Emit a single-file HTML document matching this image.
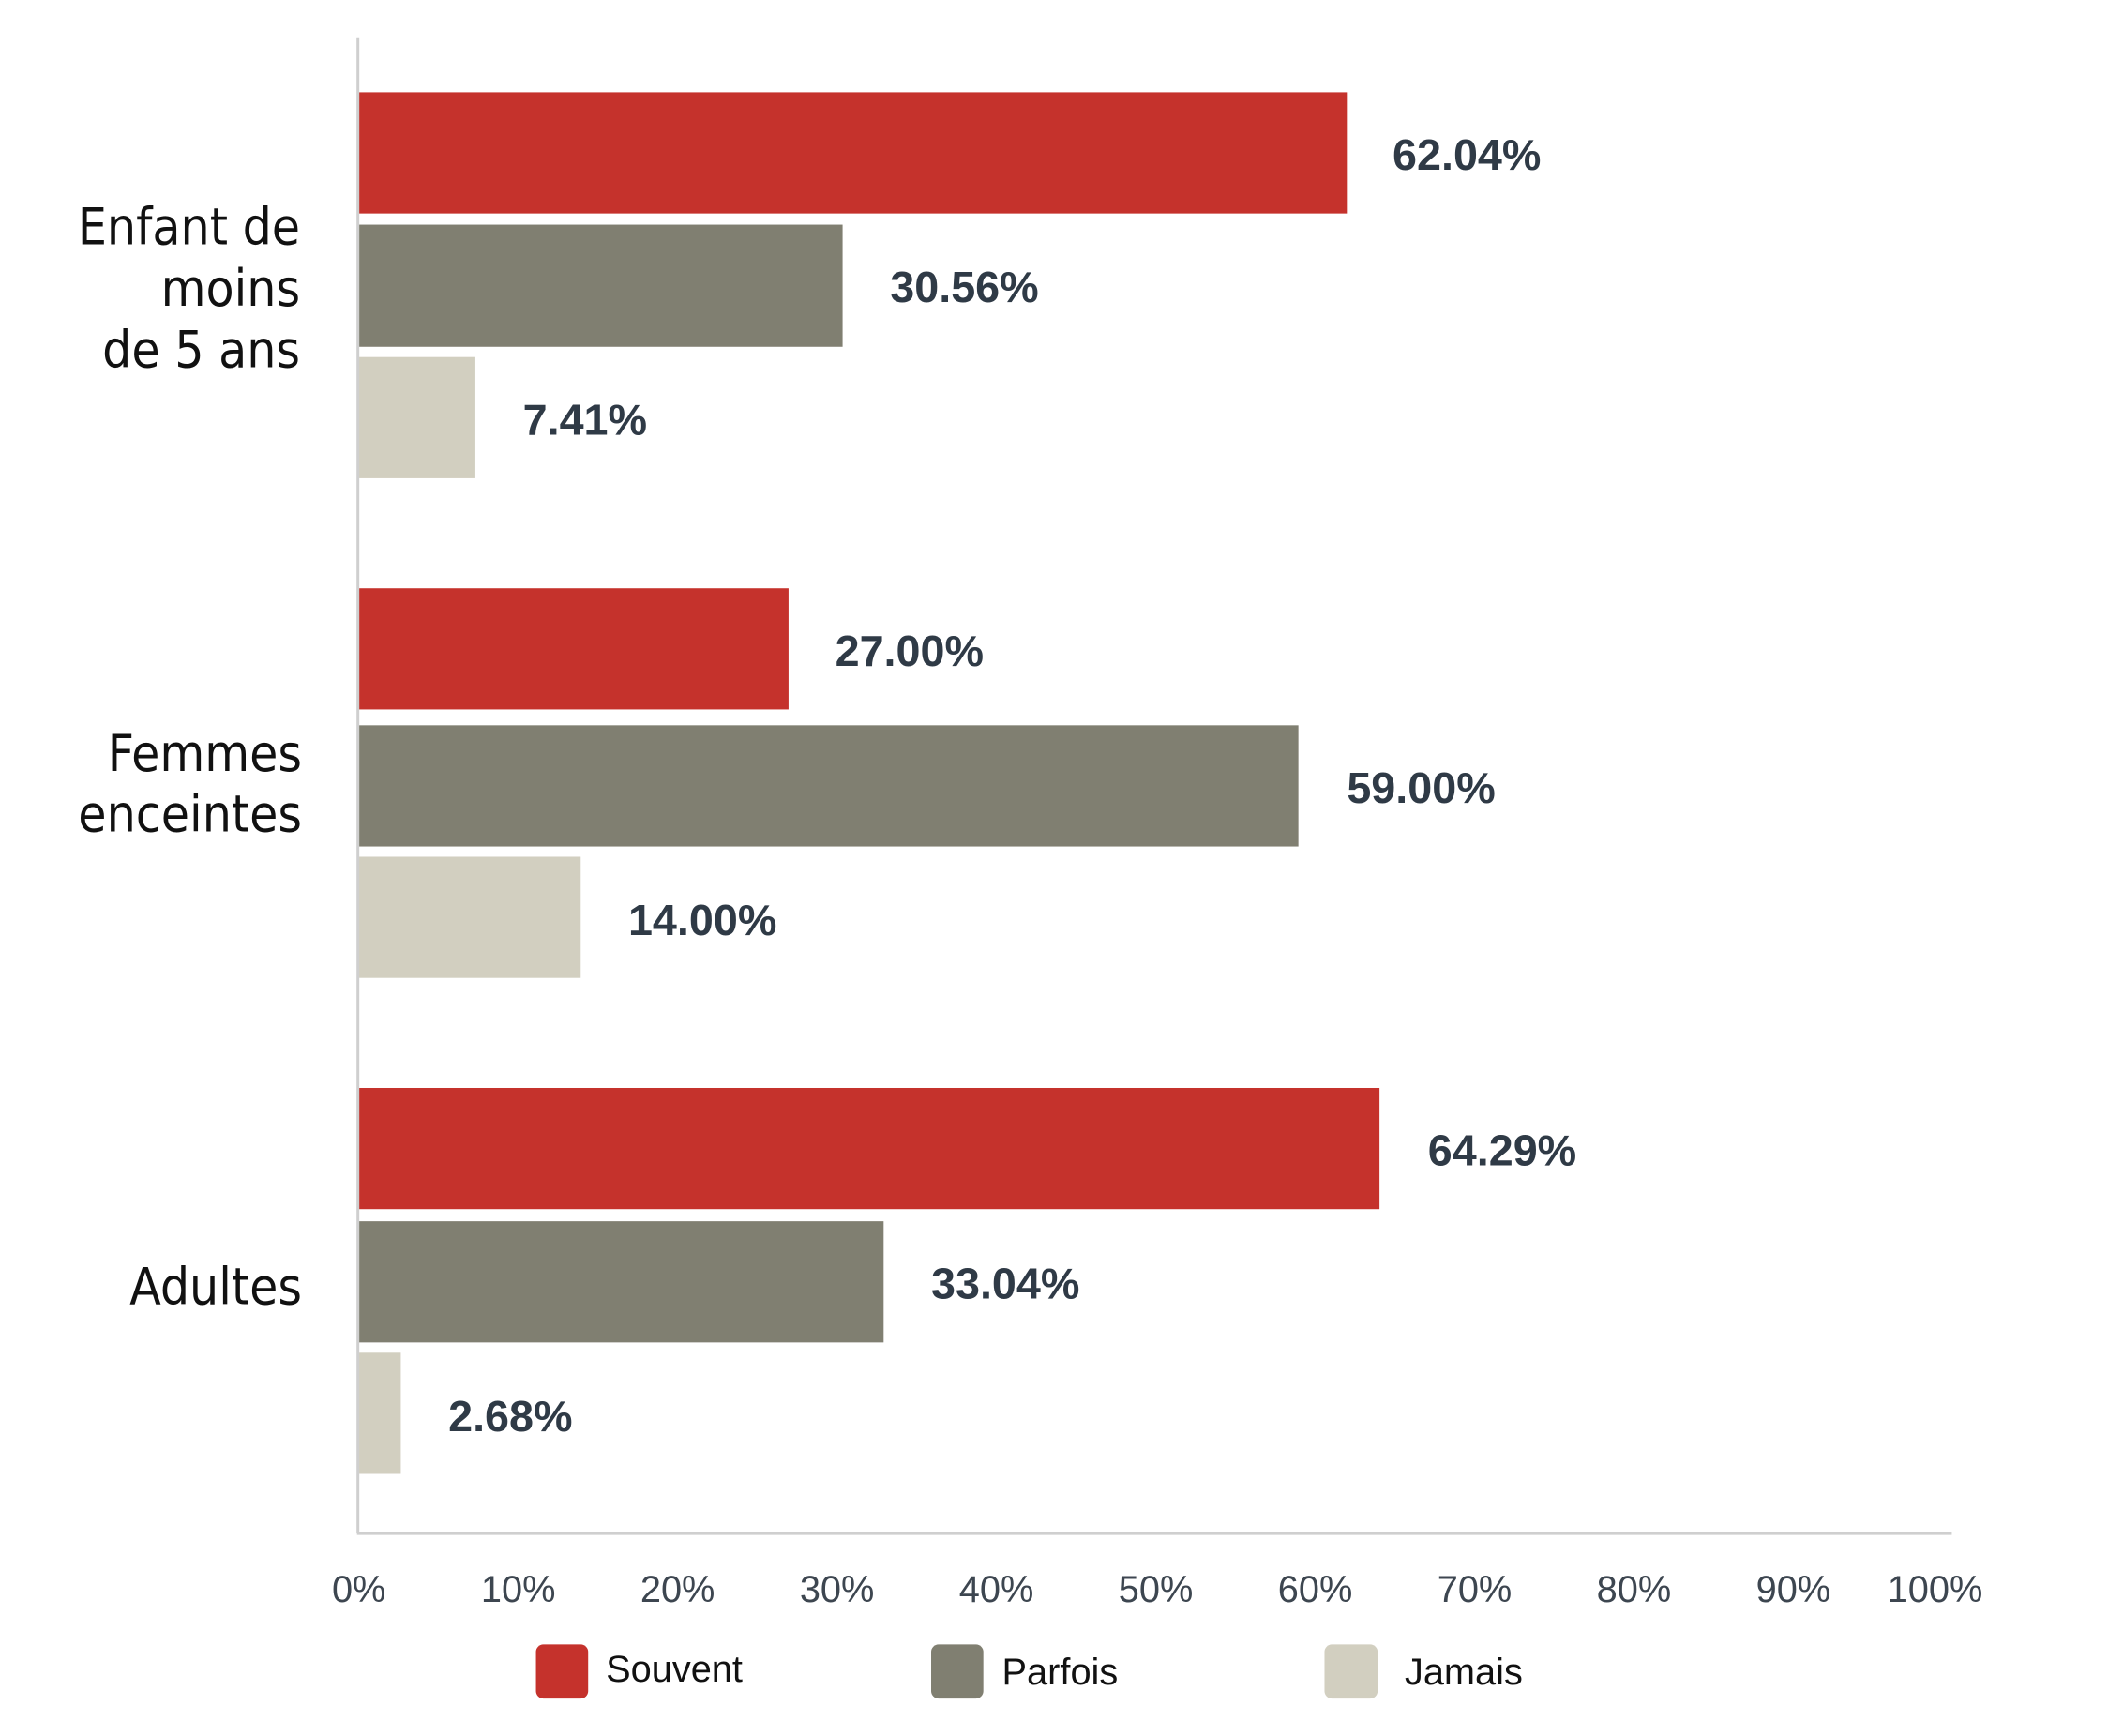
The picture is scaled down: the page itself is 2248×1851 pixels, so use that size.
<!DOCTYPE html>
<html><head><meta charset="utf-8"><style>html,body{margin:0;padding:0;background:#fff;}svg{display:block}</style></head>
<body>
<svg width="2248" height="1851" viewBox="0 0 2248 1851" xmlns="http://www.w3.org/2000/svg">
<rect width="2248" height="1851" fill="#fff"/>
<g transform="scale(0.994)">
<g fill="#c5322c">
<rect x="385" y="99" width="1060" height="130"/>
<rect x="385" y="631" width="461" height="130"/>
<rect x="385" y="1167" width="1095" height="130"/>
</g>
<g fill="#807f71">
<rect x="385" y="241" width="519" height="131"/>
<rect x="385" y="778" width="1008" height="130"/>
<rect x="385" y="1310" width="563" height="130"/>
</g>
<g fill="#d2cfc0">
<rect x="385" y="383" width="125" height="130"/>
<rect x="385" y="919" width="238" height="130"/>
<rect x="385" y="1451" width="45" height="130"/>
</g>
<line x1="384" y1="40" x2="384" y2="1645" stroke="#cfcfcf" stroke-width="3"/>
<line x1="383" y1="1645" x2="2094" y2="1645" stroke="#cfcfcf" stroke-width="3"/>
<g font-family="Liberation Sans, sans-serif" font-weight="bold" font-size="47" fill="#2f3a46" dominant-baseline="central">
<text x="1494" y="166">62.04%</text>
<text x="955" y="308">30.56%</text>
<text x="561" y="450">7.41%</text>
<text x="896" y="698">27.00%</text>
<text x="1445" y="845">59.00%</text>
<text x="674" y="987">14.00%</text>
<text x="1532" y="1234">64.29%</text>
<text x="999" y="1377">33.04%</text>
<text x="481" y="1519">2.68%</text>
</g>
<g font-family="DejaVu Sans Condensed, DejaVu Sans, sans-serif" font-size="55" fill="#111" text-anchor="end" dominant-baseline="central">
<text x="322" y="243">Enfant de</text>
<text x="322" y="309">moins</text>
<text x="322" y="375">de 5 ans</text>
<text x="324" y="808">Femmes</text>
<text x="324" y="873">enceintes</text>
<text x="324" y="1380">Adultes</text>
</g>
<g font-family="Liberation Sans, sans-serif" font-size="40" fill="#3d4650" text-anchor="middle" dominant-baseline="central">
<text x="385" y="1705">0%</text>
<text x="556" y="1705">10%</text>
<text x="727" y="1705">20%</text>
<text x="898" y="1705">30%</text>
<text x="1069" y="1705">40%</text>
<text x="1240" y="1705">50%</text>
<text x="1411" y="1705">60%</text>
<text x="1582" y="1705">70%</text>
<text x="1753" y="1705">80%</text>
<text x="1924" y="1705">90%</text>
<text x="2076" y="1705">100%</text>
</g>
<rect x="575" y="1764" width="56" height="58" rx="8" fill="#c5322c"/>
<rect x="999" y="1764" width="56" height="58" rx="8" fill="#807f71"/>
<rect x="1421" y="1764" width="57" height="58" rx="8" fill="#d2cfc0"/>
<g font-family="Liberation Sans, sans-serif" font-size="40" fill="#111" dominant-baseline="central">
<text x="650" y="1791">Souvent</text>
<text x="1075" y="1794">Parfois</text>
<text x="1507" y="1794">Jamais</text>
</g>
</g>
</svg>
</body></html>
